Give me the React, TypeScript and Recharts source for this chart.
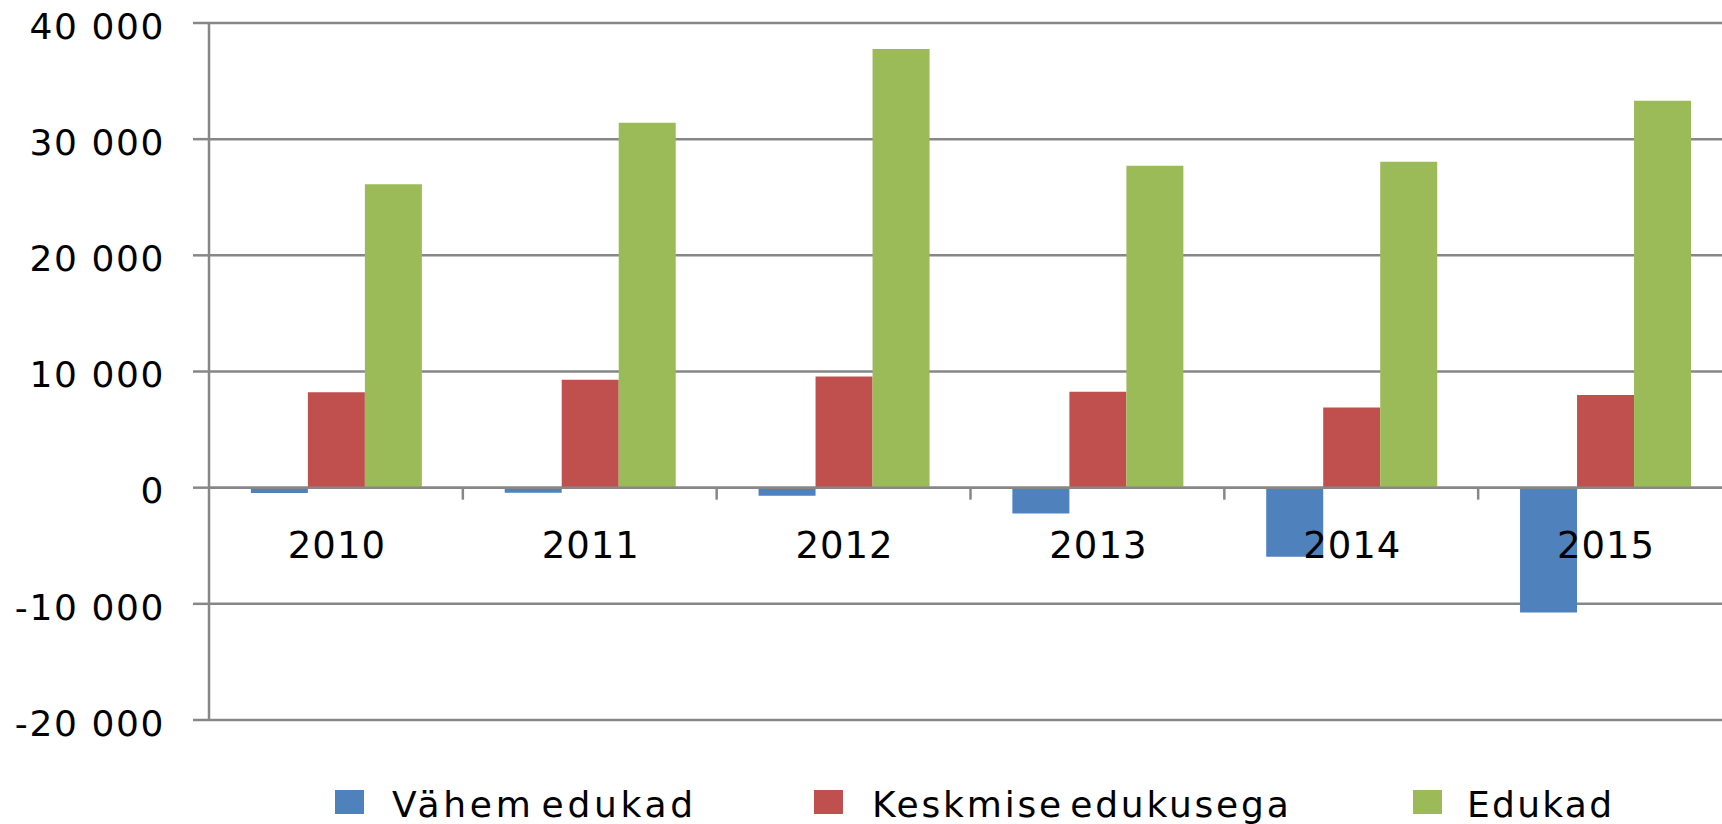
import React from 'react';
import { BarChart, Bar, XAxis, YAxis, CartesianGrid, ReferenceLine } from 'recharts';

const categories = ['2010', '2011', '2012', '2013', '2014', '2015'];
const vahemEdukad = [-450, -430, -690, -2230, -5950, -10750];
const keskmiseEdukusega = [8220, 9290, 9560, 8260, 6900, 7980];
const edukad = [26120, 31420, 37760, 27720, 28050, 33300];
const seriesNames = ['Vähem edukad', 'Keskmise edukusega', 'Edukad'];
const seriesColors = ['#4F81BD', '#C0504D', '#9BBB59'];
const yTicks = [-20000, -10000, 0, 10000, 20000, 30000, 40000];

const Y_MIN = -20000;
const Y_MAX = 40000;
const PLOT_TOP = 23;
const PLOT_BOTTOM = 720;
const CHART_W = 1732;
const CHART_H = 824;
const Y_AXIS_W = 209;
const X_AXIS_H = 30;
const GRAY = '#878787';
const FONT = '"DejaVu Sans", Verdana, sans-serif';
// legend layout (square left, text left, letter spacing)
const LEGEND_LAYOUT = [
  { sq: 335, tx: 392, ls: 3.7 },
  { sq: 814, tx: 872, ls: 2.8 },
  { sq: 1413, tx: 1467, ls: 2.3 },
];

const data = categories.map((c, i) => ({
  year: c,
  s0: vahemEdukad[i],
  s1: keskmiseEdukusega[i],
  s2: edukad[i],
}));

const fmt = (v: number) => {
  const s = Math.abs(v).toString().replace(/\B(?=(\d{3})+(?!\d))/g, ' ');
  return (v < 0 ? '-' : '') + s;
};

const yZero = PLOT_TOP + ((PLOT_BOTTOM - PLOT_TOP) * (Y_MAX - 0)) / (Y_MAX - Y_MIN);

const XTick = (props: any) => {
  const { x, payload } = props;
  const band = (CHART_W - Y_AXIS_W) / categories.length;
  const half = payload && typeof payload.offset === 'number' && payload.offset > 0 ? payload.offset : band / 2;
  return (
    <g>
      <line x1={x + half} x2={x + half} y1={yZero} y2={yZero + 12} stroke={GRAY} strokeWidth={2.5} />
      <text
        x={x + 1}
        y={yZero + 70}
        textAnchor="middle"
        fontSize={37}
        fontFamily={FONT}
        letterSpacing={1}
        fill="#000"
      >
        {payload.value}
      </text>
    </g>
  );
};

const YTick = (props: any) => {
  const { x, y, payload } = props;
  return (
    <text
      x={x + 2}
      y={y + 3}
      dy="0.355em"
      textAnchor="end"
      fontSize={36}
      fontFamily={FONT}
      letterSpacing={1.6}
      fill="#000"
    >
      {fmt(payload.value)}
    </text>
  );
};

export default function App() {
  return (
    <div
      style={{
        position: 'absolute',
        left: 0,
        top: 0,
        width: 1722,
        height: 824,
        overflow: 'hidden',
        background: '#fff',
      }}
    >
      <BarChart
        width={CHART_W}
        height={CHART_H}
        data={data}
        margin={{ top: PLOT_TOP, right: 0, left: 0, bottom: CHART_H - PLOT_BOTTOM - X_AXIS_H }}
        barCategoryGap="16.5%"
        barGap={0}
      >
        <CartesianGrid vertical={false} stroke={GRAY} strokeWidth={2.5} />
        <XAxis
          dataKey="year"
          height={X_AXIS_H}
          axisLine={false}
          tickLine={false}
          tick={<XTick />}
          interval={0}
        />
        <YAxis
          width={Y_AXIS_W}
          domain={[Y_MIN, Y_MAX]}
          ticks={yTicks}
          interval={0}
          axisLine={{ stroke: GRAY, strokeWidth: 2.5 }}
          tickLine={{ stroke: GRAY, strokeWidth: 2.5 }}
          tickSize={16}
          tickMargin={30}
          tick={<YTick />}
        />
        <Bar dataKey="s0" name={seriesNames[0]} fill={seriesColors[0]} isAnimationActive={false} />
        <Bar dataKey="s1" name={seriesNames[1]} fill={seriesColors[1]} isAnimationActive={false} />
        <Bar dataKey="s2" name={seriesNames[2]} fill={seriesColors[2]} isAnimationActive={false} />
        <ReferenceLine y={0} stroke={GRAY} strokeWidth={2.5} />
      </BarChart>
      {seriesNames.map((n, i) => (
        <React.Fragment key={n}>
          <div
            style={{
              position: 'absolute',
              left: LEGEND_LAYOUT[i].sq,
              top: 790,
              width: 29,
              height: 24,
              background: seriesColors[i],
            }}
          />
          <span
            style={{
              position: 'absolute',
              left: LEGEND_LAYOUT[i].tx,
              top: 787,
              fontFamily: FONT,
              fontSize: 36,
              lineHeight: '36px',
              letterSpacing: LEGEND_LAYOUT[i].ls,
              wordSpacing: -8,
              color: '#000',
              whiteSpace: 'nowrap',
            }}
          >
            {n}
          </span>
        </React.Fragment>
      ))}
    </div>
  );
}
